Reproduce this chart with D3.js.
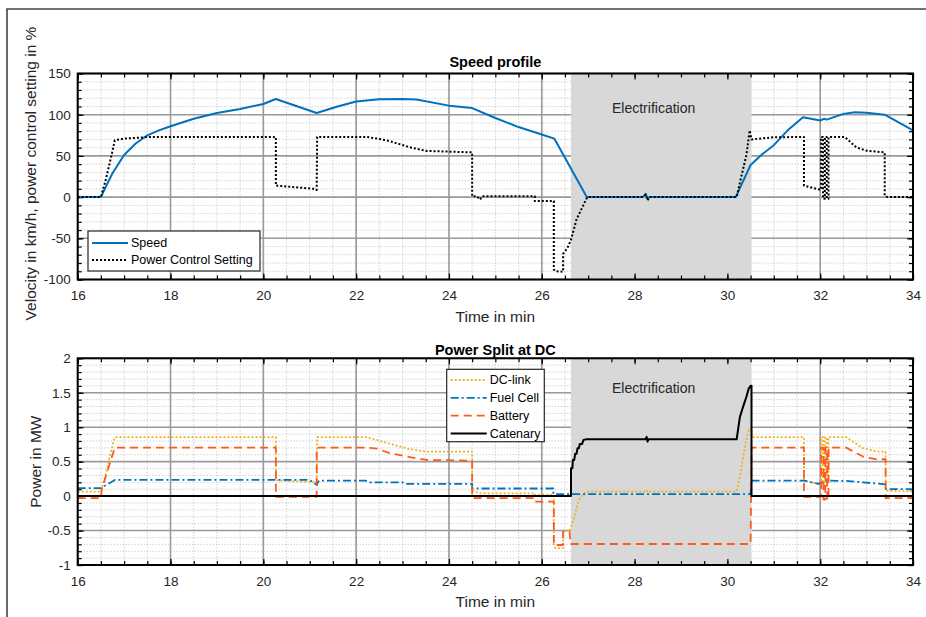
<!DOCTYPE html>
<html>
<head>
<meta charset="utf-8">
<script src="https://cdn.jsdelivr.net/npm/d3@7"></script>
<style>
    body { margin: 0; background: #fff; }
    svg { font-family: "Liberation Sans", Arial, sans-serif; }
</style>
</head>
<body>
<div id="chart"></div>
<script>
// values (time in min)

let timeTicks = [16, 18, 20, 22, 24, 26, 28, 30, 32, 34];
let speedTicks = [-100, -50, 0, 50, 100, 150];
let powerTicks = [-1, -0.5, 0, 0.5, 1, 1.5, 2];
let electrification = [26.63, 30.52];

let speed = [[16,0],[16.5,0],[16.6,12],[16.75,29],[17,51],[17.25,65],[17.5,75],[17.75,81],[18,86],[18.5,95],
    [19,102],[19.5,107],[20,113],[20.27,119],[21.15,102],[21.6,110],[22,116],[22.5,118.7],[23,119],[23.3,118.5],
    [24,111],[24.5,108],[25,96],[25.5,85],[26,76],[26.27,71],[26.97,0],[28.18,0],[28.24,4],[28.28,-2],[28.32,0],
    [30.18,0],[30.5,39],[30.75,52],[31,63],[31.3,81],[31.63,97],[32,93],[32.08,95],[32.14,94],[32.5,101],
    [32.75,103],[33,102.5],[33.39,100],[34,81]];

let powerSetting = [[16,0],[16.5,0],[16.6,20],[16.73,51],[16.8,69],[17,71],[17.55,73],[20.27,73],[20.27,14],
    [21.1,10],[21.15,8.6],[21.16,73],[22.23,73],[22.45,71],[22.69,68.5],[23.16,60.4],[23.52,56],[24.5,54.3],
    [24.5,1],[24.6,1],[24.67,-3],[24.72,1],[25.85,1],[25.85,-4.7],[26.26,-4.7],[26.26,-88],[26.3,-90],
    [26.46,-90.5],[26.46,-69],[26.55,-62],[26.63,-52],[26.75,-27],[26.86,-14],[26.98,0],[28.18,0],[28.24,3],
    [28.28,-4],[28.32,0],[30.2,0],[30.3,25],[30.41,51],[30.48,81],[30.52,70],[31,72.6],[31.65,73],[31.65,14],
    [31.96,9.4],[32.02,9],[32.02,73],[32.06,73],[32.06,-2],[32.1,-2],[32.1,73],[32.14,73],[32.14,-2],
    [32.18,-2],[32.18,73],[32.53,73],[32.78,60.4],[33,56.3],
    [33.39,54.3],[33.39,2],[33.45,0],[34,0]];

let dcLink = [[16,0.066],[16.5,0.066],[16.6,0.3],[16.7,0.6],[16.8,0.855],[20.27,0.855],[20.27,0.23],
    [21.1,0.2],[21.15,0.17],[21.16,0.855],[22.23,0.855],[22.69,0.767],[23.16,0.68],[23.52,0.646],[24.5,0.645],
    [24.5,0.08],[24.67,0.04],[25.85,0.04],[25.85,0.02],[26.26,0.02],[26.26,-0.72],[26.3,-0.756],[26.46,-0.756],
    [26.46,-0.515],[26.61,-0.49],[26.68,-0.35],[26.78,-0.1],[26.85,0],[26.97,0.065],[28.22,0.065],[28.25,0.09],
    [28.28,0.065],[30.2,0.065],[30.27,0.28],[30.38,0.72],[30.45,0.935],[30.48,0.985],[30.52,0.985],
    [30.52,0.855],[31.65,0.855],[31.65,0.225],[31.96,0.18],[32.02,0.17],[32.02,0.855],[32.06,0.855],
    [32.06,0.2],[32.1,0.2],[32.1,0.855],[32.14,0.855],[32.14,0.2],[32.18,0.2],[32.18,0.855],[32.56,0.855],
    [32.92,0.695],[33.2,0.646],[33.41,0.646],[33.41,0.08],[34,0.065]];

let fuelCell = [[16,0.115],[16.5,0.115],[16.8,0.235],[21,0.235],[21.1,0.19],[21.15,0.16],[21.2,0.225],
    [22.2,0.225],[22.3,0.2],[23,0.2],[23.05,0.177],[24.5,0.177],[24.5,0.11],[26.25,0.11],[26.25,0.03],
    [30.5,0.03],[30.52,0.225],[31.65,0.225],[31.96,0.177],[32.05,0.2],[32.1,0.225],[32.56,0.22],
    [32.92,0.2],[33.41,0.17],[33.42,0.1],[34,0.1]];

let battery = [[16,-0.03],[16.5,-0.03],[16.52,0.1],[16.8,0.704],[20.27,0.704],[20.27,-0.01],[21.15,-0.01],
    [21.15,0.704],[22.23,0.704],[22.45,0.69],[22.69,0.63],[23.16,0.565],[23.52,0.525],[24.5,0.515],
    [24.5,-0.03],[25.85,-0.03],[25.85,-0.08],[26.26,-0.08],[26.26,-0.71],[26.46,-0.71],[26.46,-0.515],
    [26.6,-0.515],[26.62,-0.695],[30.5,-0.695],[30.52,0.704],[31.65,0.704],[31.65,-0.01],[32.02,-0.01],
    [32.02,0.704],[32.07,0.704],[32.07,-0.05],[32.11,-0.05],[32.11,0.704],[32.15,0.704],[32.15,-0.05],
    [32.18,-0.05],[32.18,0.704],[32.56,0.704],[32.92,0.574],[33.2,0.535],[33.41,0.535],[33.41,-0.03],
    [34,-0.03]];

let catenary = [[16,0],[26.63,0],[26.63,0.405],[26.66,0.405],[26.67,0.525],[26.7,0.525],[26.72,0.613],
    [26.75,0.613],[26.77,0.695],[26.8,0.695],[26.82,0.757],[26.87,0.757],[26.9,0.816],[26.97,0.825],
    [28.24,0.825],[28.26,0.86],[28.28,0.79],[28.3,0.825],[30.2,0.825],[30.27,1.15],[30.35,1.32],
    [30.41,1.44],[30.46,1.56],[30.5,1.6],[30.52,1.6],[30.52,0],[34,0]];


class PanelChart {

    constructor(svg, config) {
        this.svg = svg;
        this.config = config;

        this.initvis();
    }

    initvis() {
        let vis = this;
        let c = vis.config;

        vis.width = c.width;
        vis.height = c.height;

        vis.g = vis.svg.append("g")
            .attr("transform", "translate(" + c.left + "," + c.top + ")");

        vis.x = d3.scaleLinear().domain([16, 34]).range([0, vis.width]);
        vis.y = d3.scaleLinear().domain(c.yDomain).range([vis.height, 0]);

        vis.g.append("clipPath").attr("id", c.id + "-clip")
            .append("rect").attr("width", vis.width).attr("height", vis.height);

        // minor grid, dotted
        let minorX = d3.range(0, 37).map(i => 16 + i * 0.5);
        let nY = Math.round((c.yDomain[1] - c.yDomain[0]) / c.minorStep);
        let minorY = d3.range(0, nY + 1).map(i => c.yDomain[0] + i * c.minorStep);

        vis.g.selectAll(".minor-x").data(minorX).enter().append("line")
            .attr("x1", d => vis.x(d)).attr("x2", d => vis.x(d))
            .attr("y1", 0).attr("y2", vis.height)
            .attr("stroke", "#bdbdbd").attr("stroke-width", 1).attr("stroke-dasharray", "1,2");

        vis.g.selectAll(".minor-y").data(minorY).enter().append("line")
            .attr("x1", 0).attr("x2", vis.width)
            .attr("y1", d => vis.y(d)).attr("y2", d => vis.y(d))
            .attr("stroke", "#bdbdbd").attr("stroke-width", 1).attr("stroke-dasharray", "1,2");

        // major grid
        vis.g.selectAll(".major-x").data(timeTicks).enter().append("line")
            .attr("x1", d => vis.x(d)).attr("x2", d => vis.x(d))
            .attr("y1", 0).attr("y2", vis.height)
            .attr("stroke", "#9a9a9a").attr("stroke-width", 1.6);

        vis.g.selectAll(".major-y").data(c.yTicks).enter().append("line")
            .attr("x1", 0).attr("x2", vis.width)
            .attr("y1", d => vis.y(d)).attr("y2", d => vis.y(d))
            .attr("stroke", "#9a9a9a").attr("stroke-width", 1.6);

        // electrified section
        vis.g.append("rect")
            .attr("x", vis.x(electrification[0]))
            .attr("y", 0)
            .attr("width", vis.x(electrification[1]) - vis.x(electrification[0]))
            .attr("height", vis.height)
            .attr("fill", "#d8d8d8");

        vis.g.append("text")
            .attr("x", vis.x(electrification[0]) + 41)
            .attr("y", c.elecY)
            .attr("font-size", 14)
            .attr("fill", "#262626")
            .text("Electrification");

        // ticks, all inward; MATLAB style labels with plain hyphen
        let fmt = d => String(d);
        let xMinorAxis = d3.axisBottom(vis.x).tickValues(minorX).tickSize(-4).tickFormat("");
        let xAxis = d3.axisBottom(vis.x).tickValues(timeTicks).tickSize(-6).tickPadding(11).tickFormat(fmt);
        let xTopMinor = d3.axisTop(vis.x).tickValues(minorX).tickSize(-4).tickFormat("");
        let xTop = d3.axisTop(vis.x).tickValues(timeTicks).tickSize(-6).tickFormat("");
        let yMinorAxis = d3.axisLeft(vis.y).tickValues(minorY).tickSize(-4).tickFormat("");
        let yAxis = d3.axisLeft(vis.y).tickValues(c.yTicks).tickSize(-6).tickPadding(7).tickFormat(fmt);
        let yRightMinor = d3.axisRight(vis.y).tickValues(minorY).tickSize(-4).tickFormat("");
        let yRight = d3.axisRight(vis.y).tickValues(c.yTicks).tickSize(-6).tickFormat("");

        let bottomT = "translate(0," + vis.height + ")";
        let rightT = "translate(" + vis.width + ",0)";
        [[xMinorAxis, bottomT], [xAxis, bottomT], [xTopMinor, null], [xTop, null],
         [yMinorAxis, null], [yAxis, null], [yRightMinor, rightT], [yRight, rightT]].forEach(a => {
            let ag = vis.g.append("g").attr("class", "axis");
            if (a[1]) ag.attr("transform", a[1]);
            ag.call(a[0]);
            ag.select(".domain").remove();
            ag.selectAll("line").attr("stroke", "#000").attr("stroke-width", 1.2);
            ag.selectAll("text").attr("font-size", 13.5).attr("fill", "#262626")
                .attr("font-family", "'Liberation Sans', Arial, sans-serif");
        });

        // series
        vis.line = d3.line().x(d => vis.x(d[0])).y(d => vis.y(d[1]));

        vis.linesGroup = vis.g.append("g").attr("clip-path", "url(#" + c.id + "-clip)");
        c.series.forEach(s => {
            vis.linesGroup.append("path")
                .datum(s.data)
                .attr("d", vis.line)
                .attr("fill", "none")
                .attr("stroke", s.color)
                .attr("stroke-width", s.width)
                .attr("stroke-dasharray", s.dash)
                .attr("stroke-linejoin", "round");
        });

        // axes box
        vis.g.append("rect")
            .attr("width", vis.width).attr("height", vis.height)
            .attr("fill", "none").attr("stroke", "#000").attr("stroke-width", 2);

        // titles and labels
        vis.g.append("text")
            .attr("x", vis.width / 2).attr("y", c.titleY)
            .attr("text-anchor", "middle")
            .attr("font-size", 14.5).attr("font-weight", "bold")
            .text(c.title);

        vis.g.append("text")
            .attr("x", vis.width / 2).attr("y", vis.height + 42)
            .attr("text-anchor", "middle")
            .attr("font-size", 15.5).attr("fill", "#262626")
            .text("Time in min");

        vis.g.append("text")
            .attr("transform", "translate(" + (c.yLabelX - c.left) + "," + (vis.height / 2 + c.yLabelShift) + ") rotate(-90)")
            .attr("text-anchor", "middle")
            .attr("dy", "0.35em")
            .attr("font-size", 15.5).attr("fill", "#262626")
            .text(c.yLabel);

        vis.drawLegend();
    }

    drawLegend() {
        let vis = this;
        let L = vis.config.legend;

        let lg = vis.svg.append("g");
        lg.append("rect")
            .attr("x", L.x).attr("y", L.y).attr("width", L.w).attr("height", L.h)
            .attr("fill", "#fff").attr("stroke", "#262626").attr("stroke-width", 1.2);

        vis.config.series.slice().sort((a, b) => a.order - b.order).forEach((s, i) => {
            let yy = L.y + L.first + i * L.step;
            lg.append("line")
                .attr("x1", L.x + 4).attr("x2", L.x + 4 + L.sample)
                .attr("y1", yy).attr("y2", yy)
                .attr("stroke", s.color).attr("stroke-width", s.width)
                .attr("stroke-dasharray", s.dash);
            lg.append("text")
                .attr("x", L.x + 7 + L.sample).attr("y", yy)
                .attr("dy", "0.35em")
                .attr("font-size", 12.5).attr("fill", "#000")
                .text(s.name);
        });
    }
}

let svg = d3.select("#chart").append("svg")
    .attr("width", 926)
    .attr("height", 617);

// outer figure frame
svg.append("path")
    .attr("d", "M7,617 L7,9 L926,9")
    .attr("fill", "none").attr("stroke", "#444").attr("stroke-width", 1.6);

let speedChart = new PanelChart(svg, {
    id: "speed", left: 77.7, top: 73.5, width: 835.3, height: 206,
    yDomain: [-100, 150], yTicks: speedTicks, minorStep: 10,
    title: "Speed profile", titleY: -7, elecY: 39,
    yLabel: "Velocity in km/h, power control setting in %", yLabelX: 31, yLabelShift: -3,
    legend: {x: 88, y: 231, w: 172, h: 40, first: 12, step: 17, sample: 36},
    series: [
        {name: "Speed", data: speed, color: "#0072BD", width: 2, dash: null, order: 0},
        {name: "Power Control Setting", data: powerSetting, color: "#000", width: 2, dash: "2,2", order: 1}
    ]
});

let powerChart = new PanelChart(svg, {
    id: "power", left: 77.7, top: 358.3, width: 835.3, height: 206.7,
    yDomain: [-1, 2], yTicks: powerTicks, minorStep: 0.1,
    title: "Power Split at DC", titleY: -3, elecY: 35,
    yLabel: "Power in MW", yLabelX: 36, yLabelShift: 0,
    legend: {x: 446.7, y: 369.3, w: 97.6, h: 72.4, first: 10.7, step: 17.8, sample: 36},
    series: [
        {name: "DC-link", data: dcLink, color: "#EDB120", width: 1.8, dash: "2,2", order: 0},
        {name: "Fuel Cell", data: fuelCell, color: "#0072BD", width: 1.8, dash: "8,3,2,3", order: 1},
        {name: "Battery", data: battery, color: "#FF5A1A", width: 1.8, dash: "8,5", order: 2},
        {name: "Catenary", data: catenary, color: "#000", width: 2, dash: null, order: 3}
    ]
});
</script>
</body>
</html>
